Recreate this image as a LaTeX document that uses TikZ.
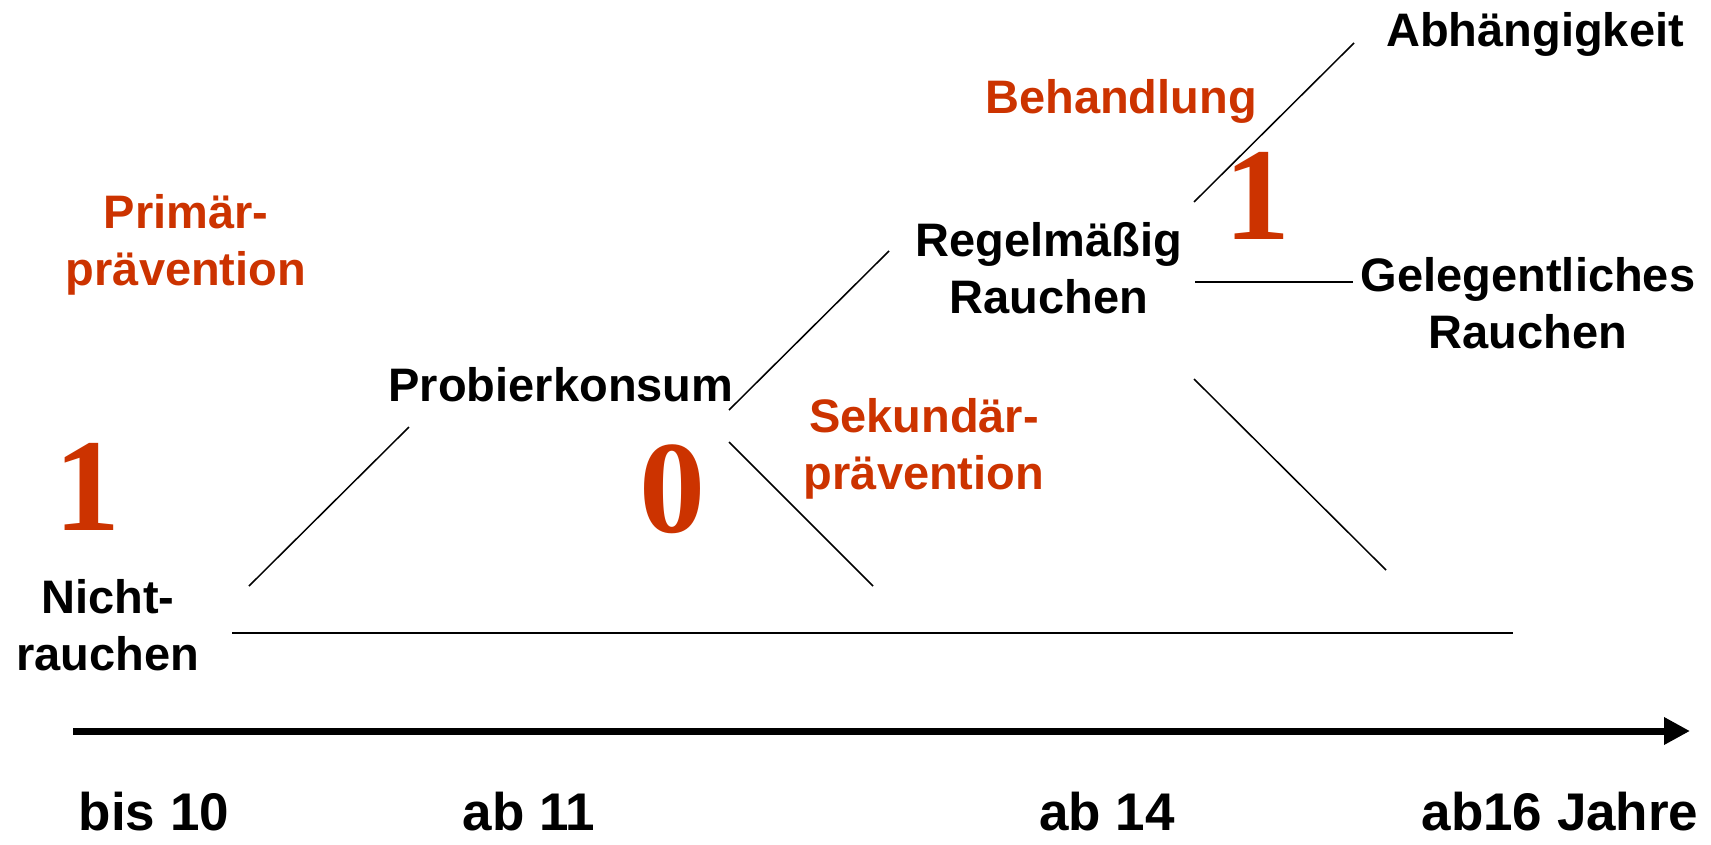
\documentclass[tikz,border=0pt]{standalone}
\usepackage{fontspec}
\setmainfont{Liberation Sans}
\newfontfamily\numfont{Liberation Serif}
\usetikzlibrary{arrows.meta}
\definecolor{accent}{RGB}{204,51,0}
\tikzset{
  lbl/.style={inner sep=0pt, align=center, font=\fontsize{47}{57}\selectfont\bfseries},
  olbl/.style={lbl, text=accent},
  big/.style={inner sep=0pt, text=accent, font=\fontsize{132}{132}\selectfont\numfont\bfseries},
  age/.style={inner sep=0pt, font=\fontsize{53}{60}\selectfont\bfseries},
  thin/.style={line width=1.5pt},
  axis/.style={line width=7pt, -{Triangle[length=26pt,width=26pt]}}
}
\begin{document}
\begin{tikzpicture}[x=1pt,y=-1pt]
\useasboundingbox (0,0) rectangle (1711,844);
% texts
\node[olbl] (prim) at (186,245) {Primär-\\prävention};
\node[lbl] (nicht) at (108,625) {Nicht-\\rauchen};
\node[big] (one1) at (87,487) {1};
\node[lbl] (probier) at (561,385) {Probierkonsum};
\node[big] (zero) at (672,489) {0};
\node[olbl] (sek) at (924,449) {Sekundär-\\prävention};
\node[lbl] (regel) at (1049,268) {Regelmäßig\\Rauchen};
\node[olbl] (beh) at (1121,101) {Behandlung};
\node[big] (one2) at (1257,196) {1};
\node[lbl] (abh) at (1535,34) {Abhängigkeit};
\node[lbl] (gel) at (1528,303) {Gelegentliches\\Rauchen};
\node[age] (a10) at (154,812) {bis 10};
\node[age] (a11) at (529,812) {ab 11};
\node[age] (a14) at (1107,812) {ab 14};
\node[age] (a16) at (1560,812) {ab16 Jahre};
% line end points
\coordinate (b1) at (232,633);
\coordinate (b2) at (1513,633);
\coordinate (p1) at (249,586);
\coordinate (p2) at (409,427);
\coordinate (r1) at (729,410);
\coordinate (r2) at (889,251);
\coordinate (s1) at (729,442);
\coordinate (s2) at (873,586);
\coordinate (h1) at (1194,202);
\coordinate (h2) at (1354,43);
\coordinate (g1) at (1195,282);
\coordinate (g2) at (1353,282);
\coordinate (d1) at (1194,379);
\coordinate (d2) at (1386,570);
\coordinate (x1) at (73,731);
\coordinate (x2) at (1690,731);
% lines
\draw[thin] (b1) -- (b2);
\draw[thin] (p1) -- (p2);
\draw[thin] (r1) -- (r2);
\draw[thin] (s1) -- (s2);
\draw[thin] (h1) -- (h2);
\draw[thin] (g1) -- (g2);
\draw[thin] (d1) -- (d2);
\draw[axis] (x1) -- (x2);
\end{tikzpicture}
\end{document}
